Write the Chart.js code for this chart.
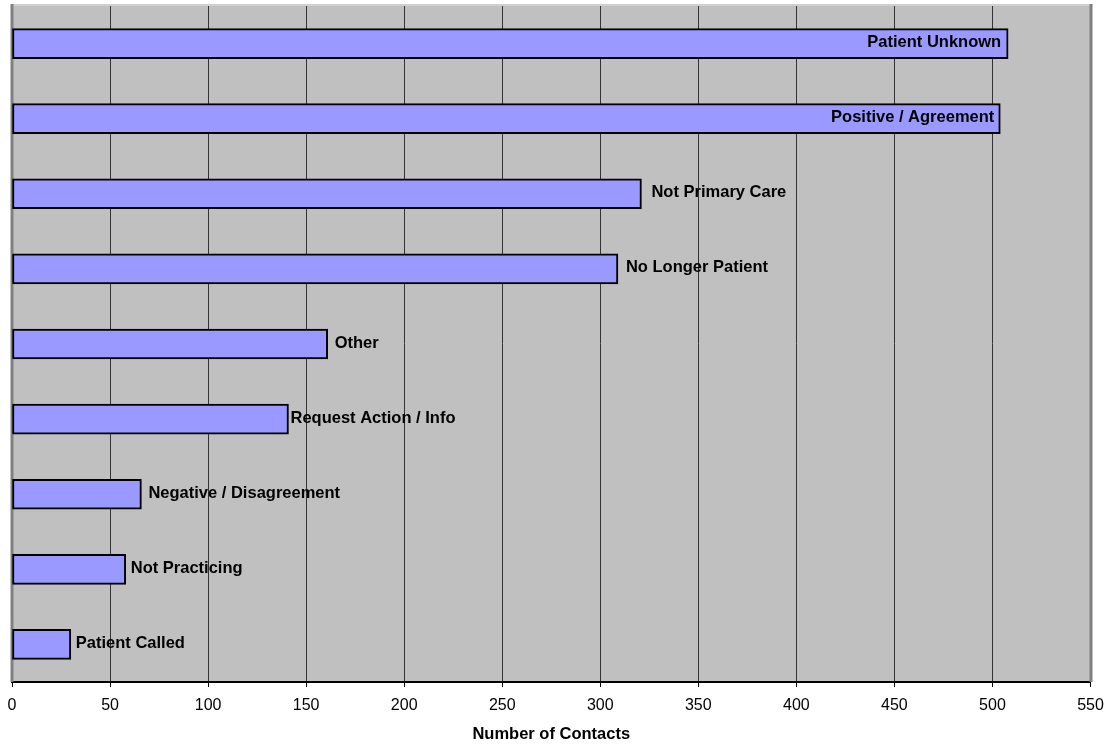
<!DOCTYPE html>
<html>
<head>
<meta charset="utf-8">
<title>Number of Contacts by Response</title>
<script src="https://cdn.jsdelivr.net/npm/chart.js@4/dist/chart.umd.min.js"></script>
<style>
  html, body { margin: 0; padding: 0; background: #ffffff; }
  #wrap { width: 1107px; height: 746px; }
</style>
</head>
<body>
<div id="wrap"><canvas id="chart" width="1107" height="746"></canvas></div>
<script>
// Response categories, top to bottom
const categories = [
  'Patient Unknown',
  'Positive / Agreement',
  'Not Primary Care',
  'No Longer Patient',
  'Other',
  'Request Action / Info',
  'Negative / Disagreement',
  'Not Practicing',
  'Patient Called'
];

// Number of contacts per response
const contacts = [508, 504, 321, 309, 161, 141, 66, 58, 30];

// X axis range and step
const axisMin = 0;
const axisMax = 550;
const axisStep = 50;

const FONT = "'Liberation Sans', Arial, Helvetica, sans-serif";

// Grey plot background and the framed plot edges
const plotFrame = {
  id: 'plotFrame',
  beforeDraw(chart) {
    const { ctx, chartArea: a } = chart;
    ctx.save();
    ctx.fillStyle = '#C0C0C0';
    ctx.fillRect(a.left, a.top - 1, a.right - a.left, a.bottom - a.top + 1);
    ctx.restore();
  },
  beforeDatasetsDraw(chart) {
    const { ctx, chartArea: a } = chart;
    ctx.save();
    // top edge
    ctx.strokeStyle = '#D0D0D0';
    ctx.lineWidth = 2;
    ctx.beginPath();
    ctx.moveTo(a.left - 1, a.top - 1);
    ctx.lineTo(a.right + 2, a.top - 1);
    ctx.stroke();
    // left and right edges
    ctx.strokeStyle = '#808080';
    ctx.lineWidth = 3;
    ctx.beginPath();
    ctx.moveTo(a.left, a.top - 2);
    ctx.lineTo(a.left, a.bottom);
    ctx.moveTo(a.right + 0.5, a.top - 2);
    ctx.lineTo(a.right + 0.5, a.bottom);
    ctx.stroke();
    ctx.restore();
  }
};

// Category name written at the end of each bar; inside the bar when it would not fit
const barNames = {
  id: 'barNames',
  afterDatasetsDraw(chart, args, opts) {
    const { ctx, chartArea: a } = chart;
    const meta = chart.getDatasetMeta(0);
    const labels = chart.data.labels;
    ctx.save();
    ctx.font = opts.font;
    ctx.fillStyle = opts.color;
    ctx.textBaseline = 'middle';
    meta.data.forEach((bar, i) => {
      const text = labels[i];
      const w = ctx.measureText(text).width;
      const gap = (opts.gaps && opts.gaps[i] != null) ? opts.gaps[i] : 7;
      const y = bar.y + opts.dy;
      if (bar.x + gap + w > a.right) {
        ctx.textAlign = 'right';
        ctx.fillText(text, bar.x - gap, y);
      } else {
        ctx.textAlign = 'left';
        ctx.fillText(text, bar.x + gap, y);
      }
    });
    ctx.restore();
  }
};

new Chart(document.getElementById('chart'), {
  type: 'bar',
  data: {
    labels: categories,
    datasets: [{
      label: 'Number of Contacts',
      data: contacts,
      backgroundColor: '#9999FF',
      borderColor: '#000000',
      borderWidth: 2,
      borderSkipped: false,
      barThickness: 30
    }]
  },
  options: {
    indexAxis: 'y',
    responsive: false,
    animation: false,
    devicePixelRatio: 1,
    layout: { padding: { left: 12, right: 16.5, top: 6, bottom: 0 } },
    plugins: {
      legend: { display: false },
      tooltip: { enabled: false },
      barNames: {
        font: "bold 16.5px " + FONT,
        color: '#000000',
        dy: -1,
        gaps: [7, 6, 10, 8, 7, 2, 7, 5, 5]
      }
    },
    scales: {
      x: {
        type: 'linear',
        min: axisMin,
        max: axisMax,
        position: 'bottom',
        afterFit(scale) {
          scale.height = 64;
          scale.paddingLeft = 0;
          scale.paddingRight = 0;
        },
        ticks: {
          stepSize: axisStep,
          color: '#000000',
          padding: 9,
          maxRotation: 0,
          font: { family: FONT, size: 16 }
        },
        grid: {
          drawOnChartArea: true,
          drawTicks: true,
          tickLength: 5,
          tickColor: '#000000',
          color: (c) => (c.index === 0 || c.tick && c.tick.value === axisMax) ? 'rgba(0,0,0,0)' : '#333333',
          lineWidth: 1
        },
        border: { display: true, color: '#000000', width: 2 },
        title: {
          display: true,
          text: 'Number of Contacts',
          color: '#000000',
          font: { family: FONT, size: 16.5, weight: 'bold' },
          padding: { top: 0, bottom: 2 }
        }
      },
      y: {
        display: false,
        offset: true,
        grid: { display: false }
      }
    }
  },
  plugins: [plotFrame, barNames]
});
</script>
</body>
</html>
